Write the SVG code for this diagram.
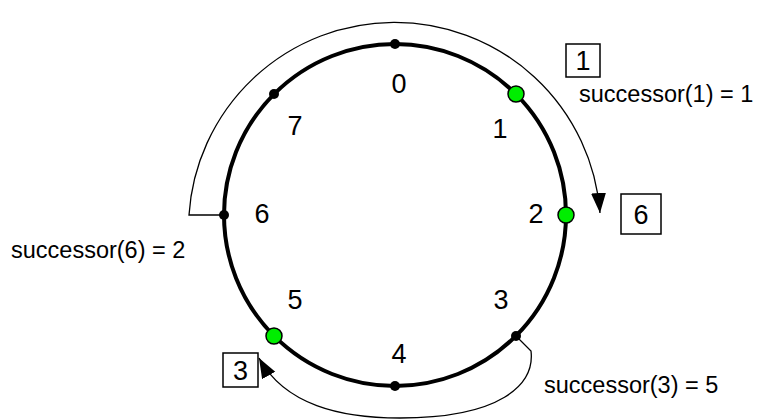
<svg xmlns="http://www.w3.org/2000/svg" width="758" height="420" viewBox="0 0 758 420">
<style>
.ring{fill:none;stroke:#000;stroke-width:4}
.dot{fill:#000}
.hit{fill:#00ee00;stroke:#000;stroke-width:1.5}
.lbl{font-family:"Liberation Sans",Arial,sans-serif;font-size:27px;text-anchor:middle;fill:#000}
.txt{font-family:"Liberation Sans",Arial,sans-serif;font-size:23.5px;fill:#000}
.box{fill:#fff;stroke:#000;stroke-width:1.5}
.conn{fill:none;stroke:#000;stroke-width:1.3}
</style>
<defs>
<marker id="ah" markerUnits="userSpaceOnUse" markerWidth="22" markerHeight="16" refX="20" refY="7.5" orient="auto">
<path d="M0,0 L20,7.5 L0,15 z" fill="#000"/>
</marker>
</defs>
<rect width="758" height="420" fill="#fff"/>
<g id="connectors">
<path class="conn" d="M224,215 L189,215 A206,206 0 0 1 600,213" marker-end="url(#ah)"/>
<path class="conn" d="M516,336 L531,351 C535,385 500,418 400,418 C340,418 285,405 259,358" marker-end="url(#ah)"/>
</g>
<g id="ring">
<circle class="ring" cx="395" cy="215" r="171"/>
</g>
<g id="n0"><circle class="dot" cx="395" cy="44" r="5"/><text class="lbl" x="399" y="93">0</text></g>
<g id="n1"><circle class="hit" cx="516" cy="94" r="8"/><text class="lbl" x="500" y="138">1</text></g>
<g id="n2"><circle class="hit" cx="566" cy="215" r="8"/><text class="lbl" x="536" y="223">2</text></g>
<g id="n3"><circle class="dot" cx="516" cy="336" r="5"/><text class="lbl" x="501" y="309">3</text></g>
<g id="n4"><circle class="dot" cx="395" cy="386" r="5"/><text class="lbl" x="399" y="363">4</text></g>
<g id="n5"><circle class="hit" cx="274" cy="336" r="8"/><text class="lbl" x="295" y="309">5</text></g>
<g id="n6"><circle class="dot" cx="224" cy="215" r="5"/><text class="lbl" x="262" y="223">6</text></g>
<g id="n7"><circle class="dot" cx="274" cy="94" r="5"/><text class="lbl" x="295" y="135">7</text></g>
<g id="box1"><rect class="box" x="566" y="44" width="34" height="33"/><text class="lbl" x="583" y="70">1</text></g>
<g id="box6"><rect class="box" x="621" y="194" width="40" height="40"/><text class="lbl" x="641" y="224">6</text></g>
<g id="box3"><rect class="box" x="223" y="353" width="35" height="34"/><text class="lbl" x="240.5" y="380">3</text></g>
<g id="labels">
<text class="txt" x="579" y="102">successor(1) = 1</text>
<text class="txt" x="11" y="258">successor(6) = 2</text>
<text class="txt" x="544" y="393">successor(3) = 5</text>
</g>
</svg>
